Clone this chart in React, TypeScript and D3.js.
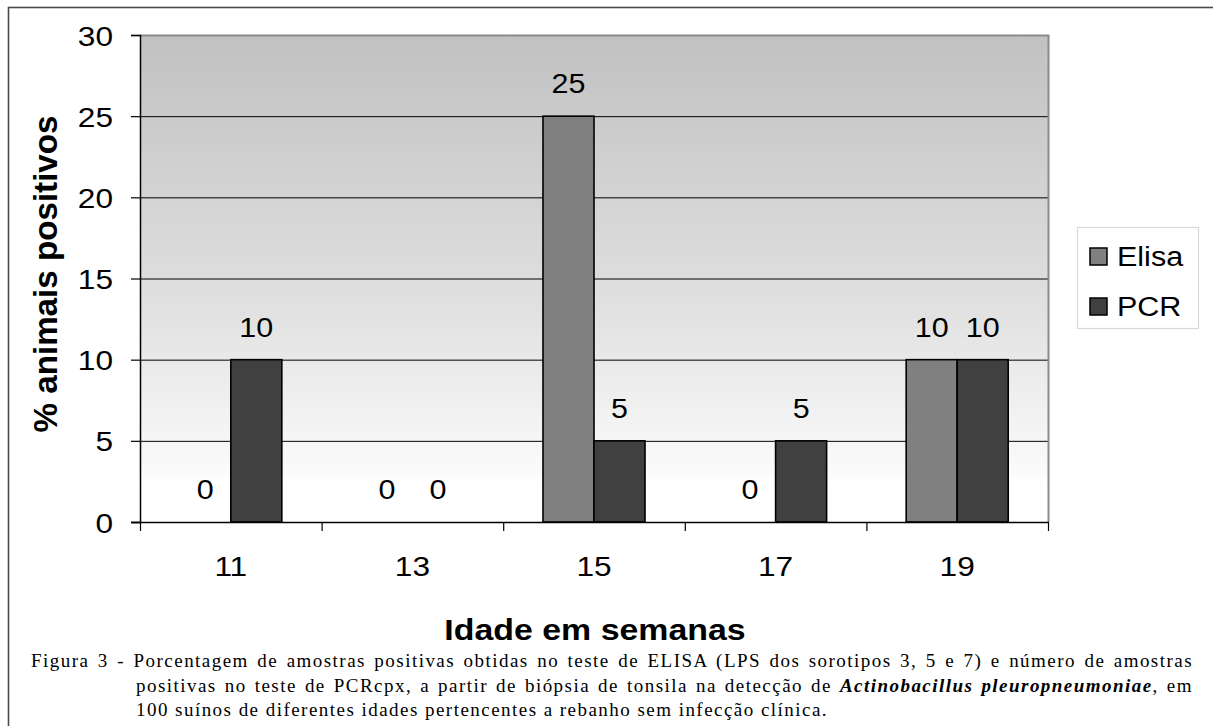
import React, { useEffect, useRef } from 'react';
import * as d3 from 'd3';

const ages = ['11', '13', '15', '17', '19'];
const seriesNames = ['Elisa', 'PCR'];
const elisa = [0, 0, 25, 0, 10];
const pcr = [10, 0, 5, 5, 10];
const yTicks = [0, 5, 10, 15, 20, 25, 30];

const captionLine1 =
  'Figura 3 - Porcentagem de amostras positivas obtidas no teste de ELISA (LPS dos sorotipos 3, 5 e 7) e número de amostras';
const captionLine2a = 'positivas no teste de PCRcpx, a partir de biópsia de tonsila na detecção de ';
const captionLine2b = 'Actinobacillus pleuropneumoniae';
const captionLine2c = ', em';
const captionLine3 = '100 suínos de diferentes idades pertencentes a rebanho sem infecção clínica.';

// the chart picture is a little stretched sideways
const SX = 1.13;

const App: React.FC = () => {
  const svgRef = useRef<SVGSVGElement | null>(null);

  useEffect(() => {
    if (!svgRef.current) return;
    const svg = d3.select(svgRef.current);
    svg.selectAll('*').remove();

    const W = 1213;
    const H = 726;
    const plot = { left: 140, top: 35, right: 1048, bottom: 522 };
    const colors: Record<string, string> = { Elisa: '#808080', PCR: '#404040' };
    const font = 'Arial, "Liberation Sans", sans-serif';

    const addText = (
      parent: d3.Selection<any, any, any, any>,
      x: number, y: number, str: string, size: number,
      anchor = 'start', weight = 'normal'
    ) => {
      parent.append('g')
        .attr('transform', `translate(${x},${y}) scale(${SX},1)`)
        .append('text')
        .attr('text-anchor', anchor)
        .attr('font-family', font).attr('font-size', size).attr('font-weight', weight)
        .attr('fill', '#000')
        .text(str);
    };

    // outer frame
    svg.append('rect')
      .attr('x', 8.5).attr('y', 7.5)
      .attr('width', W + 20).attr('height', H + 40)
      .attr('fill', 'white')
      .attr('stroke', '#4a4a4a').attr('stroke-width', 1.6);

    // gradient fill of plot area
    const defs = svg.append('defs');
    const grad = defs.append('linearGradient')
      .attr('id', 'bg').attr('x1', 0).attr('y1', 0).attr('x2', 0).attr('y2', 1);
    grad.append('stop').attr('offset', '0').attr('stop-color', '#c1c1c1');
    grad.append('stop').attr('offset', '0.55').attr('stop-color', '#e0e0e0');
    grad.append('stop').attr('offset', '0.9').attr('stop-color', '#fbfbfb');
    grad.append('stop').attr('offset', '0.92').attr('stop-color', '#ffffff');

    svg.append('rect')
      .attr('x', plot.left).attr('y', plot.top)
      .attr('width', plot.right - plot.left).attr('height', plot.bottom - plot.top)
      .attr('fill', 'url(#bg)');

    const x0 = d3.scaleBand().domain(ages).range([plot.left, plot.right]).padding(0);
    const x1 = d3.scaleBand().domain(seriesNames).range([0, x0.bandwidth()])
      .paddingInner(0).paddingOuter(0.78);
    const y = d3.scaleLinear().domain([0, 30]).range([plot.bottom, plot.top]);

    // grid lines
    svg.append('g')
      .selectAll('line')
      .data(yTicks.filter(t => t > 0 && t < 30))
      .enter()
      .append('line')
      .attr('x1', plot.left).attr('x2', plot.right)
      .attr('y1', d => y(d) + 0.5).attr('y2', d => y(d) + 0.5)
      .attr('stroke', '#000').attr('stroke-width', 1);

    // plot border top/right
    svg.append('path')
      .attr('d', `M${plot.left},${plot.top + 0.5}H${plot.right + 0.5}V${plot.bottom}`)
      .attr('fill', 'none').attr('stroke', '#8a8a8a').attr('stroke-width', 2);

    // bars
    const rows = ages.map((a, i) => ({ age: a, values: [
      { key: 'Elisa', value: elisa[i] },
      { key: 'PCR', value: pcr[i] },
    ] }));

    const groups = svg.append('g')
      .selectAll('g')
      .data(rows)
      .enter()
      .append('g')
      .attr('transform', d => `translate(${x0(d.age)},0)`);

    groups.selectAll('rect')
      .data(d => d.values.filter(v => v.value > 0))
      .enter()
      .append('rect')
      .attr('x', d => x1(d.key) || 0)
      .attr('y', d => y(d.value))
      .attr('width', x1.bandwidth())
      .attr('height', d => plot.bottom - y(d.value))
      .attr('fill', d => colors[d.key])
      .attr('stroke', '#000').attr('stroke-width', 1.6);

    // data labels
    const labels = svg.append('g');
    rows.forEach(r => {
      r.values.forEach(v => {
        const cx = (x0(r.age) || 0) + (x1(v.key) || 0) + x1.bandwidth() / 2;
        addText(labels, cx, y(v.value) - 23, String(v.value), 27, 'middle');
      });
    });

    // y axis
    const yAxis = svg.append('g')
      .attr('transform', `translate(${plot.left},0)`)
      .call(d3.axisLeft(y).tickValues(yTicks).tickSize(9).tickPadding(17));
    yAxis.select('.domain').attr('stroke', '#000').attr('stroke-width', 1.5);
    yAxis.selectAll('.tick line').attr('stroke', '#000').attr('stroke-width', 1.2);
    yAxis.selectAll('.tick text')
      .attr('x', -27 / SX)
      .attr('dy', '0.36em')
      .attr('transform', `scale(${SX},1)`)
      .attr('font-family', font).attr('font-size', 28).attr('fill', '#000');

    // x axis
    const boundaries = ages.map(a => x0(a) || 0).concat([plot.right]);
    const xg = svg.append('g');
    xg.append('line')
      .attr('x1', plot.left - 9).attr('x2', plot.right + 1)
      .attr('y1', plot.bottom + 0.5).attr('y2', plot.bottom + 0.5)
      .attr('stroke', '#000').attr('stroke-width', 1.5);
    xg.selectAll('line.tk')
      .data(boundaries)
      .enter()
      .append('line')
      .attr('class', 'tk')
      .attr('x1', d => d + 0.5).attr('x2', d => d + 0.5)
      .attr('y1', plot.bottom).attr('y2', plot.bottom + 9)
      .attr('stroke', '#000').attr('stroke-width', 1.2);
    ages.forEach(a => {
      addText(xg, (x0(a) || 0) + x0.bandwidth() / 2, 576, a, 28, 'middle');
    });

    // axis titles
    svg.append('g')
      .attr('transform', `translate(57,274) scale(${SX},1) rotate(-90)`)
      .append('text')
      .attr('text-anchor', 'middle')
      .attr('font-family', font).attr('font-size', 30).attr('font-weight', 'bold')
      .attr('textLength', 317).attr('lengthAdjust', 'spacingAndGlyphs')
      .text('% animais positivos');

    addText(svg, 595, 640, 'Idade em semanas', 30, 'middle', 'bold');

    // legend
    const lg = svg.append('g');
    lg.append('rect')
      .attr('x', 1077.5).attr('y', 227.5).attr('width', 121).attr('height', 101)
      .attr('fill', 'white').attr('stroke', '#d8d8d8').attr('stroke-width', 1.2);
    seriesNames.forEach((s, i) => {
      const cy = 256 + i * 50;
      lg.append('rect')
        .attr('x', 1090).attr('y', cy - 8).attr('width', 17).attr('height', 17)
        .attr('fill', colors[s]).attr('stroke', '#000').attr('stroke-width', 1.5);
      addText(lg, 1117, cy + 10, s, 27);
    });

    // caption: tracked serif, first two lines justified with word spacing
    const serif = '"Liberation Serif", "Times New Roman", serif';
    const cap = svg.append('g')
      .attr('font-family', serif).attr('font-size', 19).attr('fill', '#000');
    const l1 = cap.append('text').attr('x', 31).attr('y', 667).text(captionLine1);
    const l2 = cap.append('text').attr('x', 136).attr('y', 692);
    l2.append('tspan').text(captionLine2a);
    l2.append('tspan').attr('font-weight', 'bold').attr('font-style', 'italic').text(captionLine2b);
    l2.append('tspan').text(captionLine2c);
    const l3 = cap.append('text').attr('x', 136).attr('y', 716).text(captionLine3);

    // last line runs to about x = 828 in the reference
    const natural3 = l3.node()?.getComputedTextLength() || 600;
    const tracking = Math.max(0, (692 - natural3) / captionLine3.length);
    cap.attr('letter-spacing', tracking);

    const justify = (t: d3.Selection<SVGTextElement, any, any, any>, target: number, text: string) => {
      const node = t.node();
      if (!node) return;
      const natural = node.getComputedTextLength();
      const spaces = (text.match(/ /g) || []).length;
      if (spaces > 0) t.attr('word-spacing', Math.max(0, (target - natural) / spaces));
    };
    justify(l1, 1162, captionLine1);
    justify(l2, 1057, captionLine2a + captionLine2b + captionLine2c);
  }, []);

  return (
    <svg
      ref={svgRef}
      width={1213}
      height={726}
      style={{ position: 'absolute', left: 0, top: 0, display: 'block' }}
    />
  );
};

export default App;
